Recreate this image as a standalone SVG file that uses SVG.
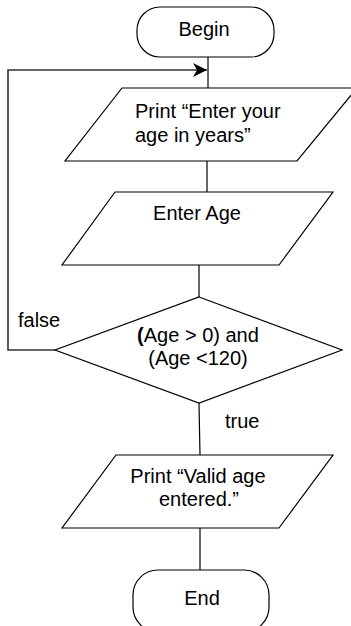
<svg xmlns="http://www.w3.org/2000/svg" width="351" height="626" viewBox="0 0 351 626">
  <style>
    .shape { fill: #ffffff; stroke: #000000; stroke-width: 1.2; }
    .link { fill: none; stroke: #000000; stroke-width: 1.2; }
    .loop { fill: none; stroke: #333333; stroke-width: 1.6; }
    text { font-family: "Liberation Sans", Arial, sans-serif; font-size: 20px; fill: #000000; }
    .mid { text-anchor: middle; }
  </style>
  <defs>
    <marker id="arrow" viewBox="0 0 14 14" refX="14" refY="7" markerWidth="14" markerHeight="14" markerUnits="userSpaceOnUse" orient="auto">
      <path d="M0,0 L14,7 L0,14 L4,7 Z" fill="#000000"/>
    </marker>
  </defs>

  <rect width="351" height="626" fill="#ffffff"/>

  <!-- connectors -->
  <g id="connectors">
    <line class="link" x1="208" y1="57" x2="208" y2="88"/>
    <line class="link" x1="207" y1="161" x2="207" y2="192"/>
    <line class="link" x1="199" y1="265" x2="199" y2="297"/>
    <line class="link" x1="199" y1="403" x2="200" y2="455"/>
    <line class="link" x1="200" y1="528" x2="200" y2="570"/>
    <!-- false branch loops back to the first prompt -->
    <polyline class="loop" points="55,350 8,350 8,70 207,70" marker-end="url(#arrow)"/>
    <text x="18" y="327">false</text>
    <text x="225" y="428">true</text>
  </g>

  <g id="begin">
    <rect class="shape" x="137" y="7" width="137" height="50" rx="23" ry="23"/>
    <text class="mid" x="204" y="36">Begin</text>
  </g>

  <g id="prompt">
    <polygon class="shape" points="122,88 357,88 297,161 65,161"/>
    <text x="135" y="118">Print “Enter your</text>
    <text x="135" y="142">age in years”</text>
  </g>

  <g id="input">
    <polygon class="shape" points="115,192 333,192 279,265 62,265"/>
    <text class="mid" x="197" y="220">Enter Age</text>
  </g>

  <g id="check">
    <polygon class="shape" points="199,297 342,350 199,403 55,350"/>
    <text class="mid" x="198" y="342"><tspan font-weight="bold">(</tspan>Age &gt; 0) and</text>
    <text class="mid" x="198" y="365">(Age &lt;120)</text>
  </g>

  <g id="valid">
    <polygon class="shape" points="116,455 333,455 279,528 62,528"/>
    <text class="mid" x="198" y="483">Print “Valid age</text>
    <text class="mid" x="199" y="506">entered.”</text>
  </g>

  <g id="end">
    <rect class="shape" x="133" y="570" width="136" height="62" rx="25" ry="25"/>
    <text class="mid" x="202" y="605">End</text>
  </g>
</svg>
